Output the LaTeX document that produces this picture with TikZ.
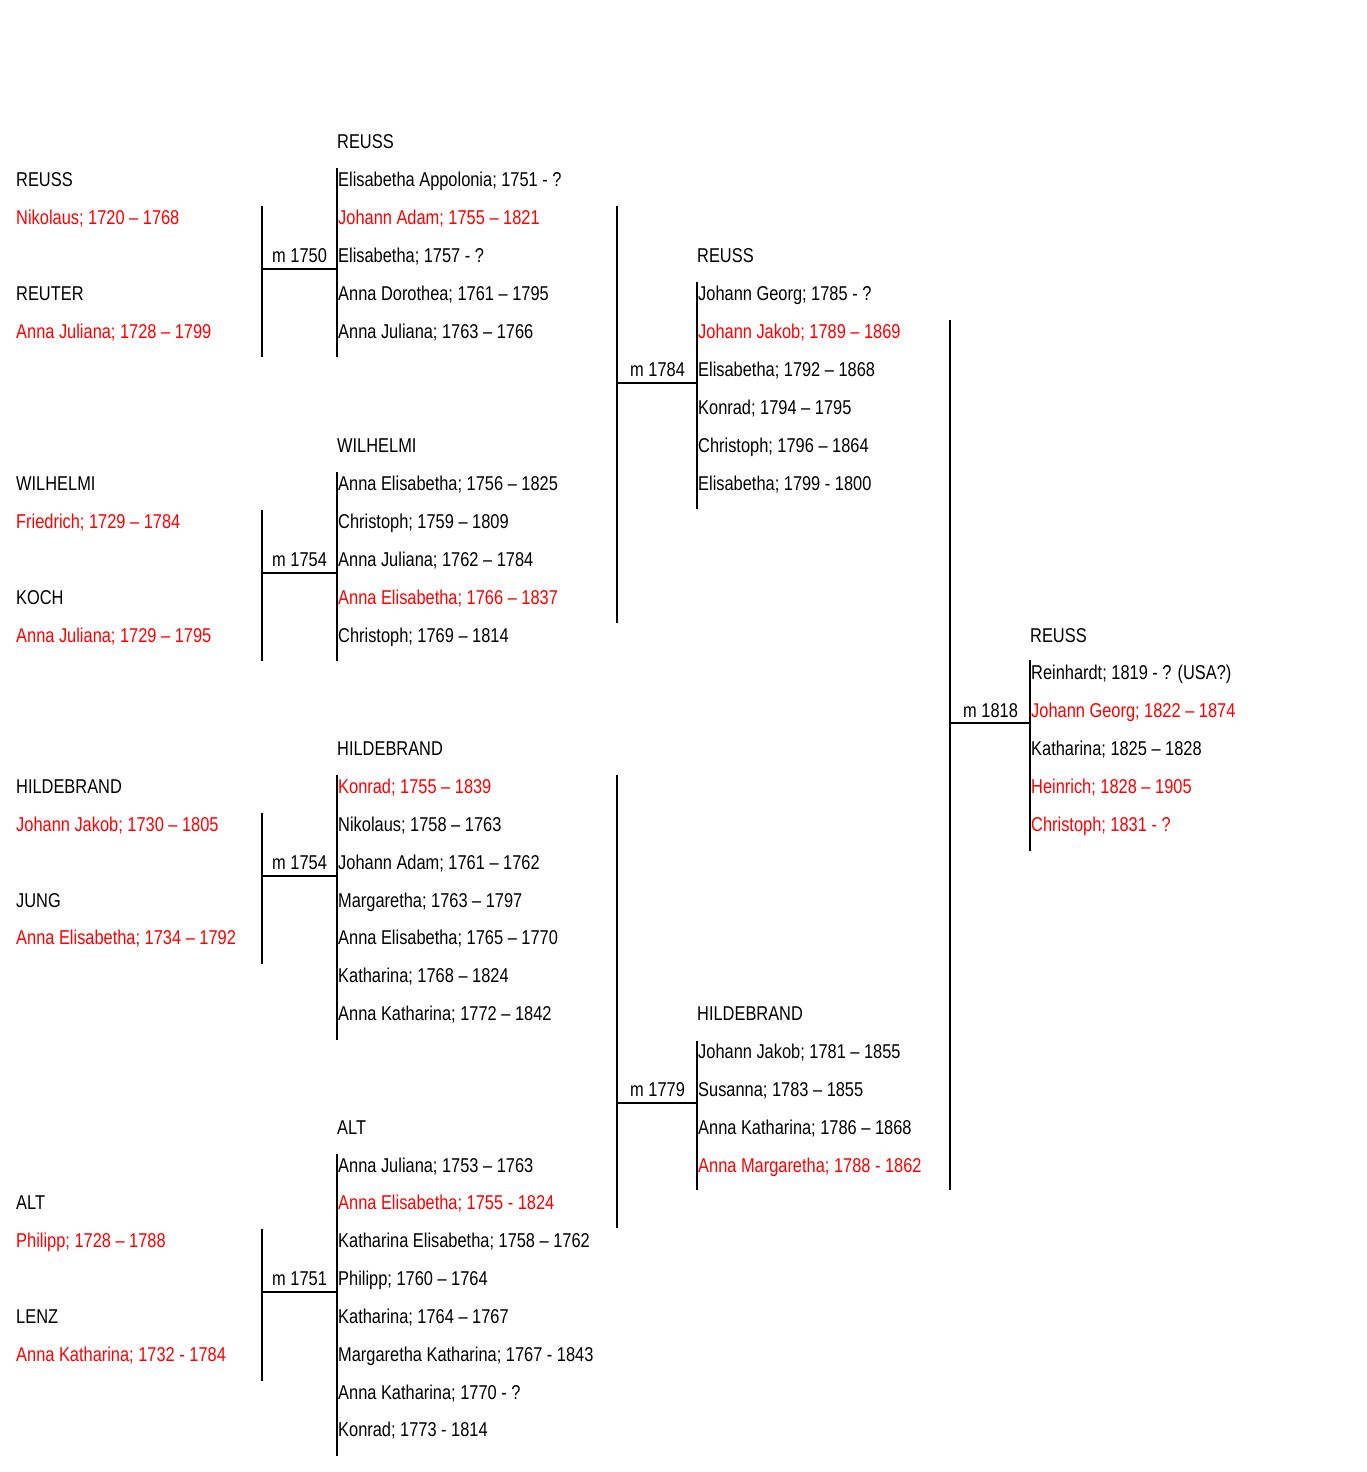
\documentclass[tikz,border=0pt]{standalone}
\usepackage{fontspec}
\setmainfont{Liberation Sans}[FakeStretch=0.82]
\begin{document}
\begin{tikzpicture}[x=1pt,y=-1pt,
  txt/.style={anchor=base west,inner sep=0pt,font=\fontsize{20}{24}\selectfont,text=black},
  red/.style={text=red},
  ln/.style={line width=2pt,black}]
\useasboundingbox[fill=white] (0,0) rectangle (1366,1472);
% ---------- Group A ----------
\node[txt] (a1) at (16,186) {REUSS};
\node[txt,red] (a2) at (16,224) {Nikolaus; 1720 – 1768};
\node[txt] (a3) at (16,300) {REUTER};
\node[txt,red] (a4) at (16,338) {Anna Juliana; 1728 – 1799};
\node[txt] (ma) at (272,262) {m 1750};
\node[txt] (ah) at (337,148) {REUSS};
\node[txt] (ac1) at (338,186) {Elisabetha Appolonia; 1751 - ?};
\node[txt,red] (ac2) at (338,224) {Johann Adam; 1755 – 1821};
\node[txt] (ac3) at (338,262) {Elisabetha; 1757 - ?};
\node[txt] (ac4) at (338,300) {Anna Dorothea; 1761 – 1795};
\node[txt] (ac5) at (338,338) {Anna Juliana; 1763 – 1766};
% ---------- Group B ----------
\node[txt] (b1) at (16,490) {WILHELMI};
\node[txt,red] (b2) at (16,528) {Friedrich; 1729 – 1784};
\node[txt] (b3) at (16,604) {KOCH};
\node[txt,red] (b4) at (16,642) {Anna Juliana; 1729 – 1795};
\node[txt] (mb) at (272,566) {m 1754};
\node[txt] (bh) at (337,452) {WILHELMI};
\node[txt] (bc1) at (338,490) {Anna Elisabetha; 1756 – 1825};
\node[txt] (bc2) at (338,528) {Christoph; 1759 – 1809};
\node[txt] (bc3) at (338,566) {Anna Juliana; 1762 – 1784};
\node[txt,red] (bc4) at (338,604) {Anna Elisabetha; 1766 – 1837};
\node[txt] (bc5) at (338,642) {Christoph; 1769 – 1814};
% ---------- Group C ----------
\node[txt] (c1) at (16,793) {HILDEBRAND};
\node[txt,red] (c2) at (16,831) {Johann Jakob; 1730 – 1805};
\node[txt] (c3) at (16,907) {JUNG};
\node[txt,red] (c4) at (16,944) {Anna Elisabetha; 1734 – 1792};
\node[txt] (mc) at (272,869) {m 1754};
\node[txt] (ch) at (337,755) {HILDEBRAND};
\node[txt,red] (cc1) at (338,793) {Konrad; 1755 – 1839};
\node[txt] (cc2) at (338,831) {Nikolaus; 1758 – 1763};
\node[txt] (cc3) at (338,869) {Johann Adam; 1761 – 1762};
\node[txt] (cc4) at (338,907) {Margaretha; 1763 – 1797};
\node[txt] (cc5) at (338,944) {Anna Elisabetha; 1765 – 1770};
\node[txt] (cc6) at (338,982) {Katharina; 1768 – 1824};
\node[txt] (cc7) at (338,1020) {Anna Katharina; 1772 – 1842};
% ---------- Group D ----------
\node[txt] (d1) at (16,1209) {ALT};
\node[txt,red] (d2) at (16,1247) {Philipp; 1728 – 1788};
\node[txt] (d3) at (16,1323) {LENZ};
\node[txt,red] (d4) at (16,1361) {Anna Katharina; 1732 - 1784};
\node[txt] (md) at (272,1285) {m 1751};
\node[txt] (dh) at (337,1134) {ALT};
\node[txt] (dc1) at (338,1172) {Anna Juliana; 1753 – 1763};
\node[txt,red] (dc2) at (338,1209) {Anna Elisabetha; 1755 - 1824};
\node[txt] (dc3) at (338,1247) {Katharina Elisabetha; 1758 – 1762};
\node[txt] (dc4) at (338,1285) {Philipp; 1760 – 1764};
\node[txt] (dc5) at (338,1323) {Katharina; 1764 – 1767};
\node[txt] (dc6) at (338,1361) {Margaretha Katharina; 1767 - 1843};
\node[txt] (dc7) at (338,1399) {Anna Katharina; 1770 - ?};
\node[txt] (dc8) at (338,1436) {Konrad; 1773 - 1814};
% ---------- Group E ----------
\node[txt] (me) at (630,376) {m 1784};
\node[txt] (eh) at (697,262) {REUSS};
\node[txt] (ec1) at (698,300) {Johann Georg; 1785 - ?};
\node[txt,red] (ec2) at (698,338) {Johann Jakob; 1789 – 1869};
\node[txt] (ec3) at (698,376) {Elisabetha; 1792 – 1868};
\node[txt] (ec4) at (698,414) {Konrad; 1794 – 1795};
\node[txt] (ec5) at (698,452) {Christoph; 1796 – 1864};
\node[txt] (ec6) at (698,490) {Elisabetha; 1799 - 1800};
% ---------- Group F ----------
\node[txt] (mf) at (630,1096) {m 1779};
\node[txt] (fh) at (697,1020) {HILDEBRAND};
\node[txt] (fc1) at (698,1058) {Johann Jakob; 1781 – 1855};
\node[txt] (fc2) at (698,1096) {Susanna; 1783 – 1855};
\node[txt] (fc3) at (698,1134) {Anna Katharina; 1786 – 1868};
\node[txt,red] (fc4) at (698,1172) {Anna Margaretha; 1788 - 1862};
% ---------- Group G ----------
\node[txt] (mg) at (963,717) {m 1818};
\node[txt] (gh) at (1030,642) {REUSS};
\node[txt] (gc1) at (1031,679) {Reinhardt; 1819 - ? (USA?)};
\node[txt,red] (gc2) at (1031,717) {Johann Georg; 1822 – 1874};
\node[txt] (gc3) at (1031,755) {Katharina; 1825 – 1828};
\node[txt,red] (gc4) at (1031,793) {Heinrich; 1828 – 1905};
\node[txt,red] (gc5) at (1031,831) {Christoph; 1831 - ?};
% ---------- line coordinates ----------
% group A
\coordinate (pA1) at (262,206); \coordinate (pA2) at (262,357);
\coordinate (hA1) at (262,269); \coordinate (hA2) at (337,269);
\coordinate (kA1) at (337,168); \coordinate (kA2) at (337,357);
% group B
\coordinate (pB1) at (262,510); \coordinate (pB2) at (262,661);
\coordinate (hB1) at (262,573); \coordinate (hB2) at (337,573);
\coordinate (kB1) at (337,472); \coordinate (kB2) at (337,661);
% group C
\coordinate (pC1) at (262,813); \coordinate (pC2) at (262,964);
\coordinate (hC1) at (262,876); \coordinate (hC2) at (337,876);
\coordinate (kC1) at (337,775); \coordinate (kC2) at (337,1040);
% group D
\coordinate (pD1) at (262,1229); \coordinate (pD2) at (262,1381);
\coordinate (hD1) at (262,1292); \coordinate (hD2) at (337,1292);
\coordinate (kD1) at (337,1154); \coordinate (kD2) at (337,1456);
% group E
\coordinate (pE1) at (617,206); \coordinate (pE2) at (617,623);
\coordinate (hE1) at (617,383); \coordinate (hE2) at (697,383);
\coordinate (kE1) at (697,282); \coordinate (kE2) at (697,509);
% group F
\coordinate (pF1) at (617,775); \coordinate (pF2) at (617,1228);
\coordinate (hF1) at (617,1103); \coordinate (hF2) at (697,1103);
\coordinate (kF1) at (697,1041); \coordinate (kF2) at (697,1190);
% group G
\coordinate (pG1) at (950,320); \coordinate (pG2) at (950,1190);
\coordinate (hG1) at (950,723); \coordinate (hG2) at (1030,723);
\coordinate (kG1) at (1030,660); \coordinate (kG2) at (1030,851);
\foreach \g in {A,B,C,D,E,F,G}{
  \draw[ln] (p\g1) -- (p\g2);
  \draw[ln] (h\g1) -- (h\g2);
  \draw[ln] (k\g1) -- (k\g2);
}
\end{tikzpicture}
\end{document}
